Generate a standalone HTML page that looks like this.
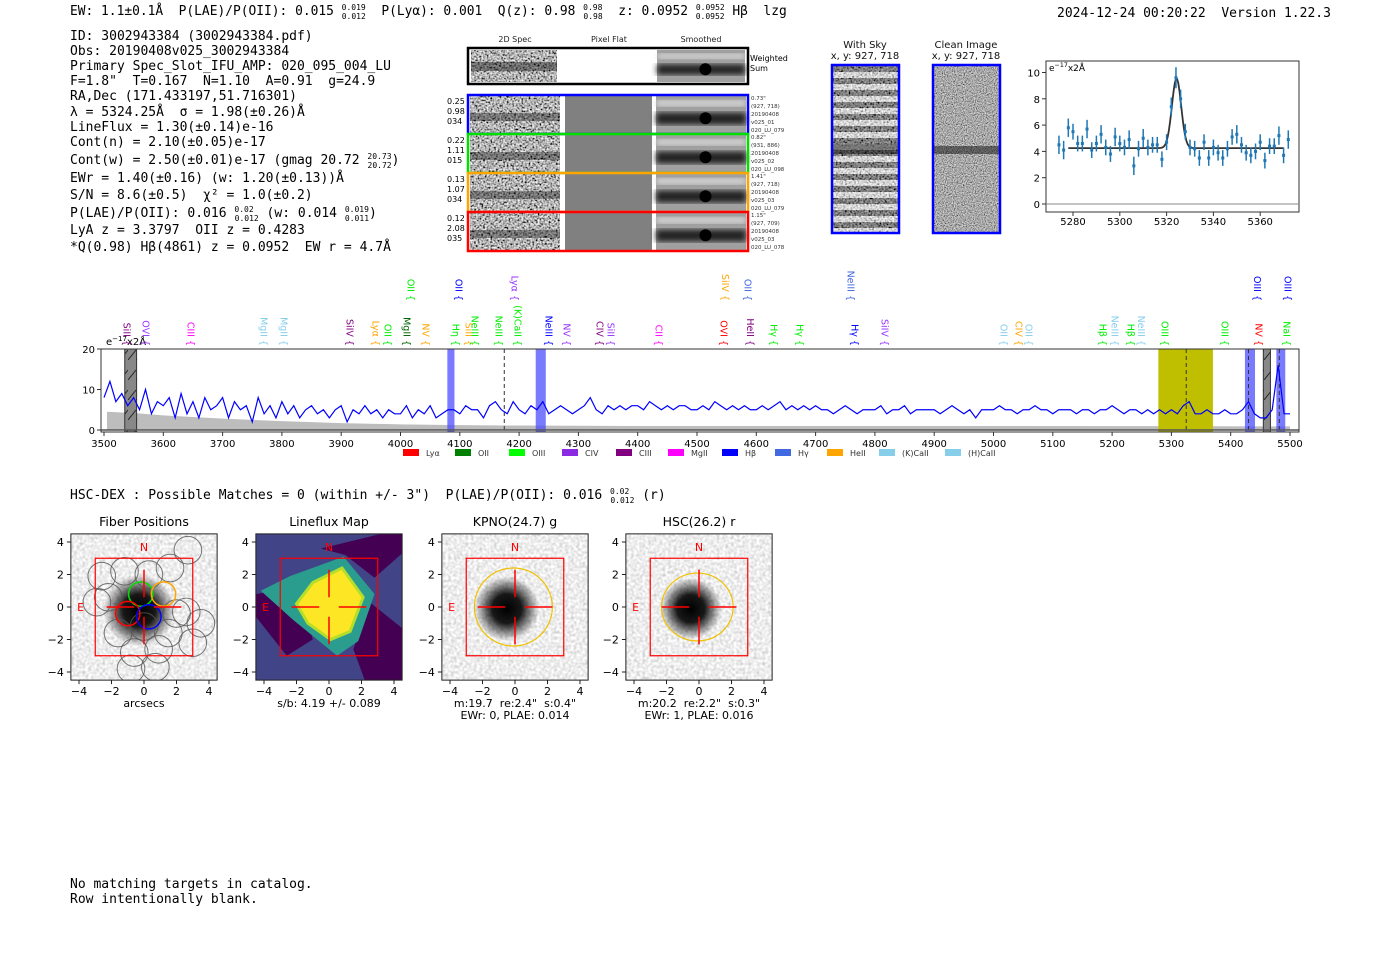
<!DOCTYPE html>
<html><head><meta charset="utf-8">
<style>
html,body{margin:0;padding:0;background:#fff;}
svg{display:block;}
text{white-space:pre;}
.mono{font-family:"DejaVu Sans Mono","Liberation Mono",monospace;}
.sans{font-family:"DejaVu Sans","Liberation Sans",sans-serif;}
</style></head>
<body>
<svg id="fig" width="1400" height="953" viewBox="0 0 1400 953" xmlns="http://www.w3.org/2000/svg" xml:space="preserve">
<defs>
<filter id="noise" x="0" y="0" width="100%" height="100%"><feTurbulence type="fractalNoise" baseFrequency="0.55" numOctaves="1" seed="4"/><feColorMatrix type="saturate" values="0"/><feComponentTransfer><feFuncR type="linear" slope="2.6" intercept="-0.85"/><feFuncG type="linear" slope="2.6" intercept="-0.85"/><feFuncB type="linear" slope="2.6" intercept="-0.85"/><feFuncA type="linear" slope="0" intercept="1"/></feComponentTransfer></filter>
<filter id="noiseF" x="0" y="0" width="100%" height="100%"><feTurbulence type="fractalNoise" baseFrequency="0.9" numOctaves="1" seed="9"/><feColorMatrix type="saturate" values="0"/><feComponentTransfer><feFuncR type="linear" slope="1.8" intercept="-0.5"/><feFuncG type="linear" slope="1.8" intercept="-0.5"/><feFuncB type="linear" slope="1.8" intercept="-0.5"/><feFuncA type="linear" slope="0" intercept="1"/></feComponentTransfer></filter>
<filter id="noiseL" x="0" y="0" width="100%" height="100%"><feTurbulence type="fractalNoise" baseFrequency="0.35" numOctaves="1" seed="7"/><feColorMatrix type="saturate" values="0"/><feComponentTransfer><feFuncR type="linear" slope="1" intercept="0.35"/><feFuncG type="linear" slope="1" intercept="0.35"/><feFuncB type="linear" slope="1" intercept="0.35"/><feFuncA type="linear" slope="0" intercept="1"/></feComponentTransfer></filter>
<filter id="blur3"><feGaussianBlur stdDeviation="3"/></filter>
<radialGradient id="blob"><stop offset="0" stop-color="#000" stop-opacity="1"/><stop offset="0.45" stop-color="#000" stop-opacity="0.9"/><stop offset="1" stop-color="#000" stop-opacity="0"/></radialGradient>
<pattern id="stripes" width="10" height="12" patternUnits="userSpaceOnUse"><rect width="10" height="6" fill="#fff" fill-opacity="0.45"/><rect y="6" width="10" height="6" fill="#000" fill-opacity="0.3"/></pattern>
<pattern id="hatch" width="8" height="20" patternUnits="userSpaceOnUse"><line x1="0" y1="20" x2="8" y2="10" stroke="#222" stroke-width="1"/></pattern>
<clipPath id="specClip"><rect x="101" y="349" width="1198" height="83"/></clipPath>
</defs>

<text class="mono" x="70" y="15" font-size="12.9">EW: 1.1±0.1Å  P(LAE)/P(OII): 0.015 <tspan font-size="8" dy="-5">0.019</tspan><tspan font-size="8" dx="-24" dy="9">0.012</tspan><tspan dy="-4">  P(Lyα): 0.001  Q(z): 0.98 </tspan><tspan font-size="8" dy="-5">0.98</tspan><tspan font-size="8" dx="-19" dy="9">0.98</tspan><tspan dy="-4">  z: 0.0952 </tspan><tspan font-size="8" dy="-5">0.0952</tspan><tspan font-size="8" dx="-29" dy="9">0.0952</tspan><tspan dy="-4"> Hβ  lzg</tspan></text>
<text class="mono" x="1057" y="17" font-size="13">2024-12-24 00:20:22  Version 1.22.3</text>

<g class="mono" font-size="13">
<text x="70" y="40">ID: 3002943384 (3002943384.pdf)</text>
<text x="70" y="55">Obs: 20190408v025_3002943384</text>
<text x="70" y="70">Primary Spec_Slot_IFU_AMP: 020_095_004_LU</text>
<text x="70" y="85">F=1.8"  T=0.167  N=1.10  A=0.91  g=24.9</text>
<text x="70" y="100">RA,Dec (171.433197,51.716301)</text>
<text x="70" y="116">λ = 5324.25Å  σ = 1.98(±0.26)Å</text>
<text x="70" y="131">LineFlux = 1.30(±0.14)e-16</text>
<text x="70" y="146">Cont(n) = 2.10(±0.05)e-17</text>
<text x="70" y="164">Cont(w) = 2.50(±0.01)e-17 (gmag 20.72 <tspan font-size="8" dy="-5">20.73</tspan><tspan font-size="8" dx="-24" dy="9">20.72</tspan><tspan dy="-4">)</tspan></text>
<text x="70" y="182">EWr = 1.40(±0.16) (w: 1.20(±0.13))Å</text>
<text x="70" y="199">S/N = 8.6(±0.5)  χ² = 1.0(±0.2)</text>
<text x="70" y="217">P(LAE)/P(OII): 0.016 <tspan font-size="8" dy="-5">0.02</tspan><tspan font-size="8" dx="-19" dy="9">0.012</tspan><tspan dy="-4"> (w: 0.014 </tspan><tspan font-size="8" dy="-5">0.019</tspan><tspan font-size="8" dx="-24" dy="9">0.011</tspan><tspan dy="-4">)</tspan></text>
<text x="70" y="234">LyA z = 3.3797  OII z = 0.4283</text>
<text x="70" y="251">*Q(0.98) Hβ(4861) z = 0.0952  EW r = 4.7Å</text>
</g>

<g class="sans" font-size="8" fill="#222">
<text x="515" y="42" text-anchor="middle">2D Spec</text>
<text x="609" y="42" text-anchor="middle">Pixel Flat</text>
<text x="701" y="42" text-anchor="middle">Smoothed</text>
</g>
<g id="spec2d"></g>

<g class="sans" font-size="10" fill="#111">
<text x="865" y="48" text-anchor="middle">With Sky</text>
<text x="865" y="59" text-anchor="middle">x, y: 927, 718</text>
<text x="966" y="48" text-anchor="middle">Clean Image</text>
<text x="966" y="59" text-anchor="middle">x, y: 927, 718</text>
</g>
<g>
<rect x="832" y="65" width="67" height="168" filter="url(#noise)"/>
<rect x="832" y="65" width="67" height="168" fill="url(#stripes)"/>
<rect x="832" y="144" width="67" height="10" fill="#000" opacity="0.45"/>
<rect x="832" y="65" width="67" height="168" fill="none" stroke="#0000ff" stroke-width="2.5"/>
</g>
<g>
<rect x="933" y="65" width="67" height="168" filter="url(#noiseF)"/>
<rect x="933" y="146" width="67" height="8" fill="#000" opacity="0.45"/>
<rect x="933" y="65" width="67" height="168" fill="none" stroke="#0000ff" stroke-width="2.5"/>
</g>

<g id="inset"></g>
<g id="spec"></g>

<text class="mono" x="70" y="499" font-size="13">HSC-DEX : Possible Matches = 0 (within +/- 3")  P(LAE)/P(OII): 0.016 <tspan font-size="8" dy="-5">0.02</tspan><tspan font-size="8" dx="-19" dy="9">0.012</tspan><tspan dy="-4"> (r)</tspan></text>

<g id="panels"></g>

<g class="mono" font-size="13">
<text x="70" y="888">No matching targets in catalog.</text>
<text x="70" y="903">Row intentionally blank.</text>
</g>

<script>
// ===== Spectrum data =====
const specStart = 3500;
const specStep = 10;
const specFlux = [8,12,7,9,6,8,5,10,4,7, 6,8,3,9,4,7,3,8,5,6, 8,3,7,5,6,2,8,4,6,3, 7,4,6,3,5,6,4,5,3,5,
 6,2,5,4,6,4,5,3,5,4, 4,6,3,5,4,6,3,4,5,5, 4,6,5,5,3,6,7,5,4,7, 5,4,6,5,7,4,5,6,5,4,
 5,6,8,5,4,6,5,6,5,6, 6,5,7,6,5,6,5,6,6,5, 5,6,5,7,6,5,6,5,6,5, 5,6,5,6,7,5,6,5,6,5,
 6,5,5,4,5,6,5,4,5,5, 5,6,4,5,5,6,4,5,5,5, 5,4,5,6,5,4,5,3,5,5, 5,6,5,5,4,5,5,6,5,5,
 4,5,5,5,4,5,5,4,5,5, 6,5,4,5,5,4,5,4,5,4, 5,4,6,7,4,4,5,4,4,5, 4,4,5,7,4,3,3,5,16,4, 4];
const skyWave = [3505,3550,3600,3700,3800,3900,4000,4100,4200,4400,4600,5000,5500];
const skyFlux = [4.5,4.2,3.6,2.8,2.2,1.7,1.4,1.2,1.1,1.0,1.0,1.0,0.9];
const xTicks = [3500,3600,3700,3800,3900,4000,4100,4200,4300,4400,4500,4600,4700,4800,4900,5000,5100,5200,5300,5400,5500];
const yTicks = [0,10,20];
const bandLo = [3535,4079,4228,5278,5424,5455,5477];
const bandHi = [3555,4091,4245,5370,5441,5467,5492];
const bandKind = ['mask','line','line','fit','line','mask','line'];
const dashWave = [4175,5325,5430,5482];
const lineWave = [3527,3559,3635,3758,3792,3903,3947,3967,3999,4031,4082,4104,4114,4154,4186,4239,4269,4325,4343,4424,4534,4578,4618,4662,4755,4805,5006,5031,5048,5173,5193,5220,5238,5277,5379,5436,5483,
  4006,4087,4181,4536,4574,4748,5433,5485];
const lineName = ['SiII','OVI','CIII','MgII','MgII','SiIV','Lyα','OII','MgII','NV','Hη','SiII','NeIII','NeIII','(K)CaII','NeIII','NV','CIV','SiII','CII','OVI','HeII','Hγ','Hγ','Hγ','SiIV','OII','CIV','OII','Hβ','NeIII','Hβ','NeIII','OIII','OIII','NV','NaI',
  'OII','OII','Lyα','SiIV','OII','NeIII','OIII','OIII'];
const lineColor = ['#800080','#9933ff','#ff00ff','#87ceeb','#87ceeb','#800080','#ffa500','#00ee00','#006400','#ffa500','#00ee00','#ffa500','#00ee00','#00ee00','#00ee00','#0000ff','#9933ff','#800080','#9933ff','#ff00ff','#ff0000','#800080','#00ee00','#00ee00','#0000ff','#9933ff','#87ceeb','#ffa500','#87ceeb','#00ee00','#87ceeb','#00ee00','#87ceeb','#00ee00','#00ee00','#ff0000','#00ee00',
  '#00ee00','#0000ff','#9933ff','#ffa500','#4169e1','#4169e1','#0000ff','#0000ff'];
const lineRow = [0,0,0,0,0,0,0,0,0,0,0,0,0,0,0,0,0,0,0,0,0,0,0,0,0,0,0,0,0,0,0,0,0,0,0,0,0, 1,1,1,1,1,1,1,1];
const legendName = ['Lyα','OII','OIII','CIV','CIII','MgII','Hβ','Hγ','HeII','(K)CaII','(H)CaII'];
const legendColor = ['#ff0000','#008000','#00ff00','#8a2be2','#800080','#ff00ff','#0000ff','#4169e1','#ffa500','#87ceeb','#87ceeb'];

// ===== Inset data =====
const insetWave = [5274,5276,5278,5280,5282,5284,5286,5288,5290,5292,5294,5296,5298,5300,5302,5304,5306,5308,5310,5312,5314,5316,5318,5320,5322,5324,5326,5328,5330,5332,5334,5336,5338,5340,5342,5344,5346,5348,5350,5352,5354,5356,5358,5360,5362,5364,5366,5368,5370,5372];
const insetFlux = [4.5,4.1,5.8,5.5,4.6,4.6,5.7,4.1,4.6,5.3,4.3,3.8,5.1,4.6,4.3,4.9,2.9,4.2,5.0,4.3,4.5,4.5,3.4,4.7,7.4,9.6,8.0,5.5,4.3,4.2,3.5,4.7,3.5,4.3,3.9,3.5,4.2,5.1,5.3,4.5,3.9,3.7,4.0,4.7,3.3,4.4,4.4,5.2,3.7,4.9];
const insetErr = [0.7,0.7,0.7,0.6,0.6,0.6,0.7,0.6,0.6,0.7,0.6,0.6,0.7,0.6,0.6,0.7,0.7,0.6,0.7,0.6,0.6,0.6,0.6,0.6,0.7,0.8,0.7,0.6,0.6,0.6,0.6,0.6,0.6,0.6,0.6,0.6,0.6,0.6,0.7,0.6,0.6,0.6,0.6,0.6,0.6,0.6,0.6,0.7,0.6,0.7];
const fitParams = [4.25, 5.3, 5324.25, 1.98]; // continuum, amplitude, center, sigma
const insetXTicks = [5280,5300,5320,5340,5360];
const insetYTicks = [0,2,4,6,8,10];

const NS='http://www.w3.org/2000/svg';
function mk(tag, parent){const e=document.createElementNS(NS,tag); parent.appendChild(e); return e;}
function set(e, o){for(const k in o) e.setAttribute(k,o[k]); return e;}
function unitLabel(parent,x,y,fs){
  const t=set(mk('text',parent),{x:x,y:y,'font-size':fs,class:'sans'});
  const a=mk('tspan',t); a.textContent='e';
  const b=set(mk('tspan',t),{dy:-4,'font-size':fs*0.7}); b.textContent='−17';
  const c=set(mk('tspan',t),{dy:4}); c.textContent='x2Å';
  return t;
}

// ----- full spectrum -----
const sx = l => 104 + (l-3500)*0.593;
const sy = v => 430 - v*4.05;
const sp = document.getElementById('spec');
let r = set(mk('rect',sp),{x:101,y:349,width:1198,height:83,fill:'#fff'});


const sclip = set(mk('g',sp),{'clip-path':'url(#specClip)'});
let skyPts = skyWave.map((w,i)=>sx(w)+','+sy(skyFlux[i])).join(' ');
skyPts = sx(skyWave[0])+','+sy(0)+' '+skyPts+' '+sx(skyWave[skyWave.length-1])+','+sy(0);
let sky = set(mk('polygon',sclip),{points:skyPts,fill:'#bdbdbd'});


bandLo.forEach((lo,i)=>{
  const b = set(mk('rect',sclip),{x:sx(lo),y:349,width:sx(bandHi[i])-sx(lo),height:83,
    fill: bandKind[i]==='mask'?'#888':(bandKind[i]==='fit'?'#bfbf00':'#4d4dff'),
    'fill-opacity': bandKind[i]==='line'?0.75:1, stroke: bandKind[i]==='mask'?'#333':'none'});
  
  
  if(bandKind[i]==='mask'){
    const h=set(mk('rect',sclip),{x:sx(lo),y:349,width:sx(bandHi[i])-sx(lo),height:83,fill:'url(#hatch)'});
    
    
  }
});
dashWave.forEach(w=>{
  const d=set(mk('line',sclip),{x1:sx(w),x2:sx(w),y1:349,y2:432,stroke:'#333','stroke-dasharray':'4,3','stroke-width':1});
  
  
});
set(mk('line',sclip),{x1:101,x2:1299,y1:sy(0),y2:sy(0),stroke:'#555','stroke-width':1.5});
const fpts = specFlux.map((v,i)=>sx(specStart+i*specStep)+','+sy(v)).join(' ');
const fl = set(mk('polyline',sclip),{points:fpts,fill:'none',stroke:'#0000ff','stroke-width':1.2});


set(mk('rect',sp),{x:101,y:349,width:1198,height:83,fill:'none',stroke:'#333','stroke-width':1});
xTicks.forEach(t=>{
  set(mk('line',sp),{x1:sx(t),x2:sx(t),y1:432,y2:436,stroke:'#333'});
  const tx=set(mk('text',sp),{x:sx(t),y:447,'text-anchor':'middle','font-size':10,class:'sans'}); tx.textContent=t;
  
  
});
yTicks.forEach(t=>{
  set(mk('line',sp),{x1:97,x2:101,y1:sy(t),y2:sy(t),stroke:'#333'});
  const tx=set(mk('text',sp),{x:95,y:sy(t)+4,'text-anchor':'end','font-size':10,class:'sans'}); tx.textContent=t;
  
  
});
const ul=unitLabel(sp,106,345,10);


lineWave.forEach((w,i)=>{
  const yb = lineRow[i]?301:346;
  const t=set(mk('text',sp),{x:sx(w)+3.5,y:yb,transform:`rotate(90 ${sx(w)+3.5} ${yb})`,'text-anchor':'end','font-size':9.5,fill:lineColor[i],class:'sans'});
  t.textContent=lineName[i]+' {';
  
  
});
const legX=[404,456,510,563,617,669,723,776,828,880,946];
legendName.forEach((n,i)=>{
  const g=mk('g',sp);
  
  
  set(mk('rect',g),{x:legX[i]-1,y:449,width:16,height:7,fill:legendColor[i]});
  const t=set(mk('text',g),{x:legX[i]+22,y:456,'font-size':8,fill:'#333',class:'sans'}); t.textContent=n;
});

// ----- inset -----
const ix = l => 1073 + (l-5280)*2.34;
const iy = v => 204 - v*13.15;
const ins=document.getElementById('inset');
set(mk('rect',ins),{x:1046,y:61,width:253,height:151,fill:'#fff',stroke:'#333'});
set(mk('line',ins),{x1:1046,x2:1299,y1:iy(0),y2:iy(0),stroke:'#888'});
insetXTicks.forEach(t=>{
  set(mk('line',ins),{x1:ix(t),x2:ix(t),y1:212,y2:216,stroke:'#333'});
  const tx=set(mk('text',ins),{x:ix(t),y:225,'text-anchor':'middle','font-size':10,class:'sans'}); tx.textContent=t;
  
  
});
insetYTicks.forEach(t=>{
  set(mk('line',ins),{x1:1042,x2:1046,y1:iy(t),y2:iy(t),stroke:'#333'});
  const tx=set(mk('text',ins),{x:1040,y:iy(t)+4,'text-anchor':'end','font-size':10,class:'sans'}); tx.textContent=t;
  
  
});
const iu=unitLabel(ins,1049,71,9);


let fitPts=[];
for(let l=5278;l<=5370;l+=0.5){const [c,a,m,s]=fitParams; fitPts.push(ix(l)+','+iy(c+a*Math.exp(-0.5*((l-m)/s)**2)));}
const fit=set(mk('polyline',ins),{points:fitPts.join(' '),fill:'none',stroke:'#333','stroke-width':1.8});


insetWave.forEach((w,i)=>{
  const g=mk('g',ins);
  
  
  set(mk('line',g),{x1:ix(w),x2:ix(w),y1:iy(insetFlux[i]-insetErr[i]),y2:iy(insetFlux[i]+insetErr[i]),stroke:'#1f77b4','stroke-width':1.5});
  set(mk('rect',g),{x:ix(w)-1.5,y:iy(insetFlux[i])-1.5,width:3,height:3,fill:'#1f77b4'});
});

// ----- 2D spectra cutouts -----
const s2=document.getElementById('spec2d');
const rowY=[96,135,174,213];
const rowCol=['#0000ff','#00e000','#ffa500','#ff0000'];
const rowNums=[['0.25','0.98','034'],['0.22','1.11','015'],['0.13','1.07','034'],['0.12','2.08','035']];
const rowInfo=[['0.73"','(927, 718)','20190408','v025_01','020_LU_079'],['0.82"','(931, 886)','20190408','v025_02','020_LU_098'],['1.41"','(927, 718)','20190408','v025_03','020_LU_079'],['1.15"','(927, 709)','20190408','v025_03','020_LU_078']];
function smooth(g,x,y,w,h){
  set(mk('rect',g),{x:x,y:y,width:w,height:h,fill:'#a0a0a0'});
  set(mk('rect',g),{x:x,y:y+h*0.12,width:w,height:h*0.15,fill:'#ddd',filter:'url(#blur3)'});
  set(mk('rect',g),{x:x,y:y+h*0.45,width:w,height:h*0.32,fill:'#222',filter:'url(#blur3)'});
  set(mk('ellipse',g),{cx:x+w*0.55,cy:y+h*0.6,rx:6,ry:6,fill:'#000'});
}
{
  const g=mk('g',s2);
  
  
  set(mk('rect',g),{x:468,y:48,width:280,height:36,fill:'#fff'});
  set(mk('rect',g),{x:471,y:50,width:86,height:32,filter:'url(#noise)'});
  set(mk('rect',g),{x:471,y:62,width:86,height:9,fill:'#000',opacity:0.4});
  const sg=mk('g',g); smooth(sg,657,50,88,32);
  set(mk('rect',g),{x:468,y:48,width:280,height:36,fill:'none',stroke:'#000','stroke-width':2.5});
  const t=set(mk('text',g),{x:750,y:61,'font-size':8,class:'sans'}); t.textContent='Weighted';
  const t2=set(mk('text',g),{x:750,y:71,'font-size':8,class:'sans'}); t2.textContent='Sum';
}
rowY.forEach((y,i)=>{
  const g=mk('g',s2);
  
  
  set(mk('rect',g),{x:470,y:y,width:90,height:37,filter:'url(#noise)'});
  set(mk('rect',g),{x:470,y:y+17,width:90,height:8,fill:'#000',opacity:0.35});
  set(mk('rect',g),{x:565,y:y,width:87,height:37,fill:'#808080'});
  const sg=mk('g',g); smooth(sg,656,y,90,37);
  set(mk('rect',g),{x:468,y:y-1,width:280,height:39,fill:'none',stroke:rowCol[i],'stroke-width':2.5});
  rowNums[i].forEach((n,j)=>{const t=set(mk('text',g),{x:447,y:y+8+j*10,'font-size':8,class:'sans'}); t.textContent=n;});
  rowInfo[i].forEach((n,j)=>{const t=set(mk('text',g),{x:751,y:y+4+j*8,'font-size':5.5,fill:'#333',class:'sans'}); t.textContent=n;});
});

// ----- imaging panels -----
const pan=document.getElementById('panels');
const panelCx=[144,329,515,699];
const panelTitle=['Fiber Positions','Lineflux Map','KPNO(24.7) g','HSC(26.2) r'];
const panelSub=[['arcsecs'],['s/b: 4.19 +/- 0.089'],['m:19.7  re:2.4"  s:0.4"','EWr: 0, PLAE: 0.014'],['m:20.2  re:2.2"  s:0.3"','EWr: 1, PLAE: 0.016']];
const pTicks=[-4,-2,0,2,4];
const fiberX=[-2.6,-1.2,0.3,1.6,2.7,-2.9,-2.2,2.6,3.5,-1.6,0.0,1.5,3.0,-0.6,0.9,-0.8,0.7,2.0];
const fiberY=[ 1.9, 2.2,2.0,2.4,3.5, 0.3, 0.6,-0.3,-1.0,-1.6,-1.2,-1.6,-2.2,-2.8,-2.6,-3.8,-3.7,-0.4];
const fiberCx=[-0.2,1.2,-1.0,0.3];
const fiberCy=[0.8,0.8,-0.4,-0.6];
const fiberCc=['#00dd00','#ffa500','#ff0000','#0000ff'];
const lfDark=[[[-4.5,-0.6],[-2.6,-3.0],[-1.0,-2.0],[-1.3,-0.8],[-3.0,1.0],[-4.5,0.8]],[[-0.5,3.6],[3.2,4.5],[4.5,4.5],[4.5,3.3],[2.8,1.8],[1.0,3.2]],[[2.5,0.3],[4.5,-1.3],[4.5,-4.5],[2.2,-4.5],[1.5,-2.6]]];
const lfTeal=[[-4.2,1.0],[-2.4,1.9],[0.9,3.1],[2.8,0.8],[1.8,-2.1],[0.5,-3.0],[-2.2,-0.8]];
const lfYellow=[[-2.0,0.2],[-1.0,1.5],[0.8,2.4],[2.1,0.6],[1.3,-1.5],[0.1,-2.0],[-1.3,-1.0]];
panelCx.forEach((cx,p)=>{
  const S=16.25, cy=607;
  const X=u=>cx+u*S, Y=u=>cy-u*S;
  const g=mk('g',pan);
  
  
  const clipId='pc'+p;
  const cp=set(mk('clipPath',g),{id:clipId}); set(mk('rect',cp),{x:X(-4.5),y:Y(4.5),width:9*S,height:9*S});
  const ig=set(mk('g',g),{'clip-path':`url(#${clipId})`});
  if(p===1){
    set(mk('rect',ig),{x:X(-4.5),y:Y(4.5),width:9*S,height:9*S,fill:'#414487'});
    lfDark.forEach(poly=>set(mk('polygon',ig),{points:poly.map(q=>X(q[0])+','+Y(q[1])).join(' '),fill:'#440154'}));
    set(mk('polygon',ig),{points:lfTeal.map(q=>X(q[0])+','+Y(q[1])).join(' '),fill:'#2a9d8f'});
    set(mk('polygon',ig),{points:lfYellow.map(q=>X(q[0])+','+Y(q[1])).join(' '),fill:'#fde725',stroke:'#b5de2b','stroke-width':3});
  } else {
    set(mk('rect',ig),{x:X(-4.5),y:Y(4.5),width:9*S,height:9*S,filter:'url(#noiseL)'});
    const rr = p===0?2.2:(p===2?2.0:1.9);
    set(mk('circle',ig),{cx:X(p===0?-0.3:-0.5),cy:Y(p===0?-0.2:-0.1),r:rr*S,fill:'url(#blob)'});
  }
  if(p===0){
    fiberX.forEach((fx,i)=>set(mk('circle',ig),{cx:X(fx),cy:Y(fiberY[i]),r:0.85*S,fill:'none',stroke:'#555','stroke-width':1,opacity:0.8}));
    fiberCx.forEach((fx,i)=>set(mk('circle',ig),{cx:X(fx),cy:Y(fiberCy[i]),r:0.75*S,fill:'none',stroke:fiberCc[i],'stroke-width':1.5}));
  }
  if(p>=2){
    set(mk('ellipse',ig),{cx:X(-0.1),cy:Y(0),rx:(p===2?2.4:2.2)*S,ry:(p===2?2.4:2.2)*S*(p===2?1.0:0.95),fill:'none',stroke:'#f0c000','stroke-width':1.2});
  }
  set(mk('rect',ig),{x:X(-3),y:Y(3),width:6*S,height:6*S,fill:'none',stroke:'#ff0000','stroke-width':1.2});
  [[0.6,2.3],[-0.6,-2.3]].forEach(q=>{
    set(mk('line',ig),{x1:X(0),x2:X(0),y1:Y(q[0]),y2:Y(q[1]),stroke:'#ff0000','stroke-width':1.5});
    set(mk('line',ig),{x1:X(q[0]),x2:X(q[1]),y1:Y(0),y2:Y(0),stroke:'#ff0000','stroke-width':1.5});
  });
  const tn=set(mk('text',ig),{x:X(0),y:Y(3.7)+4,'text-anchor':'middle','font-size':11,fill:'#ff0000',class:'sans'}); tn.textContent='N';
  const te=set(mk('text',ig),{x:X(-3.9),y:Y(0)+4,'text-anchor':'middle','font-size':11,fill:'#ff0000',class:'sans'}); te.textContent='E';
  set(mk('rect',g),{x:X(-4.5),y:Y(4.5),width:9*S,height:9*S,fill:'none',stroke:'#222'});
  pTicks.forEach(t=>{
    set(mk('line',g),{x1:X(t),x2:X(t),y1:Y(-4.5),y2:Y(-4.5)+4,stroke:'#222'});
    const a=set(mk('text',g),{x:X(t),y:Y(-4.5)+15,'text-anchor':'middle','font-size':11,class:'sans'}); a.textContent=(t<0?'−':'')+Math.abs(t);
    
    
    set(mk('line',g),{x1:X(-4.5)-4,x2:X(-4.5),y1:Y(t),y2:Y(t),stroke:'#222'});
    const b=set(mk('text',g),{x:X(-4.5)-7,y:Y(t)+4,'text-anchor':'end','font-size':11,class:'sans'}); b.textContent=(t<0?'−':'')+Math.abs(t);
    
    
  });
  const tt=set(mk('text',g),{x:cx,y:526,'text-anchor':'middle','font-size':12.5,class:'sans'}); tt.textContent=panelTitle[p];
  
  
  panelSub[p].forEach((s,j)=>{
    const st=set(mk('text',g),{x:cx,y:707+j*12,'text-anchor':'middle','font-size':11,class:'sans'}); st.textContent=s;
    
    
  });
});
</script>
</svg>
</body></html>
